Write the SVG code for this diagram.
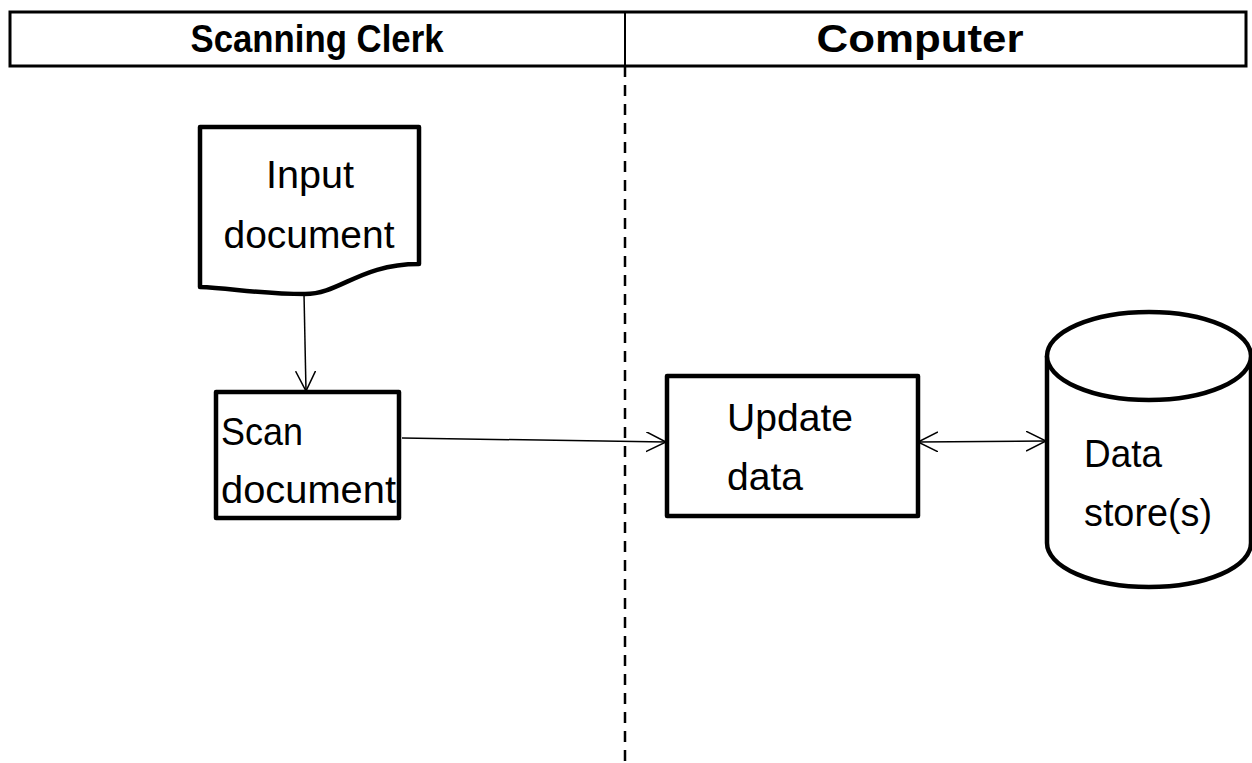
<svg xmlns="http://www.w3.org/2000/svg" width="1252" height="763" viewBox="0 0 1252 763">
<style>
.shape{fill:#fff;stroke:#000;stroke-width:4.5;stroke-linejoin:round}
.hdr{fill:none;stroke:#000;stroke-width:3}
.conn{fill:none;stroke:#000;stroke-width:1.5}
.lbl{font-family:"Liberation Sans",Arial,sans-serif;font-size:39px;fill:#000}
.head{font-family:"Liberation Sans",Arial,sans-serif;font-size:39px;font-weight:bold;fill:#000}
</style>
<defs>
<marker id="arr" markerUnits="userSpaceOnUse" markerWidth="22" markerHeight="22" refX="20" refY="10" orient="auto-start-reverse" viewBox="0 0 22 22">
<path d="M0,0 L20,10 L0,20" fill="none" stroke="#000" stroke-width="1.5"/>
</marker>
</defs>
<rect width="1252" height="763" fill="#fff"/>
<g id="header">
<rect class="hdr" x="10" y="12" width="1236" height="54"/>
<line x1="625" y1="12" x2="625" y2="66" stroke="#000" stroke-width="2"/>
<text class="head" x="317" y="52" text-anchor="middle" textLength="253" lengthAdjust="spacingAndGlyphs">Scanning Clerk</text>
<text class="head" x="920" y="52" text-anchor="middle" textLength="207" lengthAdjust="spacingAndGlyphs">Computer</text>
</g>
<g id="lane-divider">
<line x1="625" y1="66" x2="625" y2="763" stroke="#000" stroke-width="2.5" stroke-dasharray="11 8"/>
</g>
<g id="connectors">
<line class="conn" x1="304" y1="294" x2="306" y2="391" marker-end="url(#arr)"/>
<line class="conn" x1="402" y1="438" x2="666" y2="442" marker-end="url(#arr)"/>
<line class="conn" x1="918" y1="442" x2="1046" y2="441" marker-start="url(#arr)" marker-end="url(#arr)"/>
</g>
<g id="input-document">
<path class="shape" d="M200,127 H419 V264 C360,264 340,294 305,294 C260,294 230,288 200,287 Z"/>
<text class="lbl" x="310" y="188" text-anchor="middle" textLength="88" lengthAdjust="spacingAndGlyphs">Input</text>
<text class="lbl" x="309" y="248" text-anchor="middle" textLength="171" lengthAdjust="spacingAndGlyphs">document</text>
</g>
<g id="scan-document">
<rect class="shape" x="216" y="392" width="183" height="126"/>
<text class="lbl" x="221" y="445" textLength="82" lengthAdjust="spacingAndGlyphs">Scan</text>
<text class="lbl" x="221" y="503" textLength="175" lengthAdjust="spacingAndGlyphs">document</text>
</g>
<g id="update-data">
<rect class="shape" x="667" y="376" width="251" height="140"/>
<text class="lbl" x="727" y="431" textLength="126" lengthAdjust="spacingAndGlyphs">Update</text>
<text class="lbl" x="727" y="490" textLength="76" lengthAdjust="spacingAndGlyphs">data</text>
</g>
<g id="data-store">
<path class="shape" d="M1047,356 V543 A102,44 0 0 0 1251,543 V356 A102,44 0 0 0 1047,356 Z"/>
<path class="shape" fill="none" d="M1047,356 A102,44 0 0 0 1251,356"/>
<text class="lbl" x="1084" y="467" textLength="78" lengthAdjust="spacingAndGlyphs">Data</text>
<text class="lbl" x="1084" y="526" textLength="128" lengthAdjust="spacingAndGlyphs">store(s)</text>
</g>
</svg>
